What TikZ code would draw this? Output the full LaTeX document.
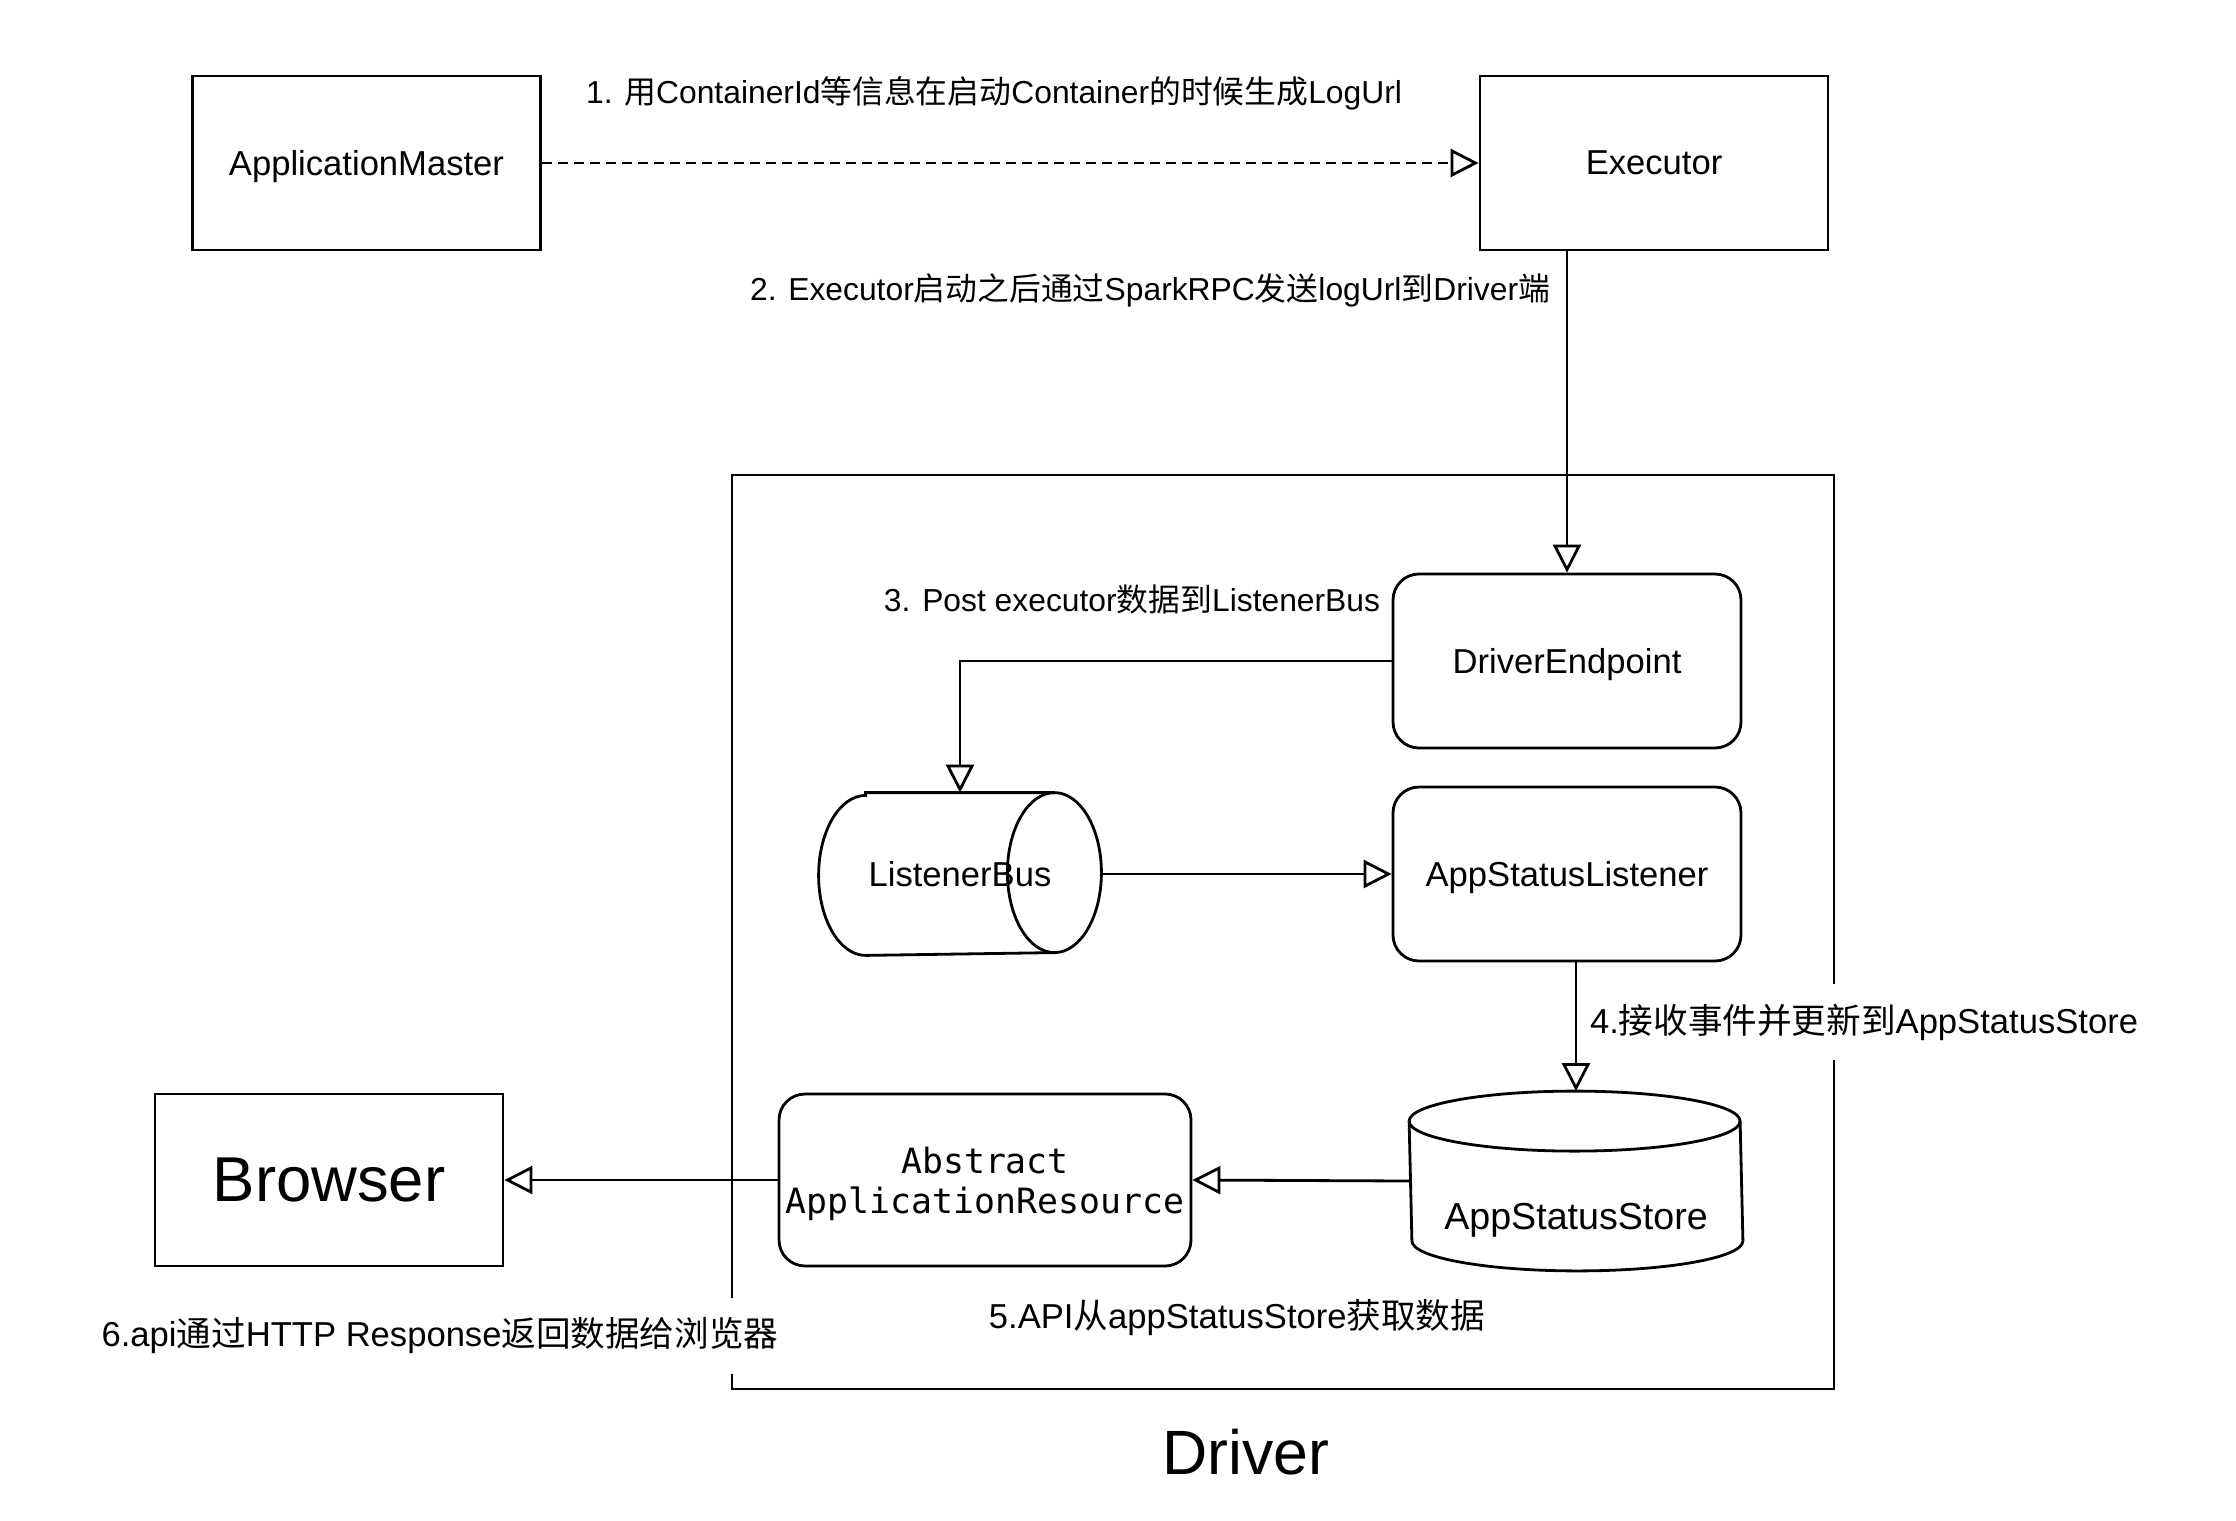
\documentclass[tikz,border=0pt]{standalone}
\usepackage{fontspec}
\setmainfont{Liberation Sans}
\newfontfamily\cjk{Noto Sans CJK SC}
\newfontfamily\codefont{DejaVu Sans Mono}
\newcommand\zh[1]{{\cjk #1}}
\usetikzlibrary{positioning,arrows.meta}

\begin{document}
\begin{tikzpicture}[x=0.5pt,y=-0.5pt,
  every node/.style={align=center},
  box/.style={draw, line width=1.4pt, minimum width=174pt, minimum height=87pt, inner sep=2pt, text depth=0pt, font=\fontsize{17.3}{20}\selectfont},
  rbox/.style={box, rounded corners=13pt},
  flow/.style={line width=1.4pt, -{Triangle[open, length=14pt, width=14pt]}},
  note/.style={font=\fontsize{15.9}{19}\selectfont, inner sep=2pt},
  bignote/.style={note, font=\fontsize{17.3}{20}\selectfont}]
  \useasboundingbox (0,0) rectangle (2236,1520);

  % driver frame
  \node[draw, line width=1.4pt, minimum width=551pt, minimum height=457pt] (drv) at (1283,932) {};
  \node[font=\fontsize{31.3}{36}\selectfont] (drvname) at (1246,1452) {Driver};

  \node[box] (am) at (366.5,163) {ApplicationMaster};
  \node[box] (exe) at (1654,163) {Executor};
  \node[rbox] (de) at (1567,661) {DriverEndpoint};
  \node[box, draw=none, minimum width=140pt, minimum height=80pt] (lb) at (960,874) {ListenerBus};
  \node[rbox] (asl) at (1567,874) {AppStatusListener};
  \node[box, draw=none, minimum width=165.5pt, minimum height=88.5pt, text height=48pt, font=\fontsize{18.8}{22}\selectfont] (ass) at (1576,1181) {AppStatusStore};
  \node[rbox, minimum width=206pt, minimum height=86pt, font=\codefont\fontsize{17.4}{20}\selectfont] (aar) at (985,1180) {Abstract\\ApplicationResource};
  \node[box, minimum height=86pt, font=\fontsize{31.7}{36}\selectfont] (br) at (329,1180) {Browser};

  % cylinders
  \draw[line width=1.4pt] ([xshift=23.5pt]lb.north west) -- ([xshift=-23.5pt]lb.north east)
    arc[start angle=90, end angle=-90, x radius=23.5pt, y radius=40pt]
    -- ([xshift=23.5pt]lb.south west)
    arc[start angle=270, end angle=90, x radius=23.5pt, y radius=40pt] -- cycle;
  \draw[line width=1.4pt] ([xshift=-23.5pt]lb.north east)
    arc[start angle=90, end angle=270, x radius=23.5pt, y radius=40pt];
  \draw[line width=1.4pt] ([yshift=-15pt]ass.north west)
    arc[start angle=180, end angle=0, x radius=82.75pt, y radius=15pt]
    -- ([yshift=15pt]ass.south east)
    arc[start angle=0, end angle=-180, x radius=82.75pt, y radius=15pt] -- cycle;
  \draw[line width=1.4pt] ([yshift=-15pt]ass.north west)
    arc[start angle=180, end angle=360, x radius=82.75pt, y radius=15pt];

  \draw[flow, dash pattern=on 5pt off 3pt] (am.east) -- (exe.west);
  \draw[flow] (exe.south -| de.north) -- (de.north);
  \draw[flow] (de.west) -| (lb.north);
  \draw[flow] (lb.east) -- (asl.west);
  \draw[flow] (asl.south -| ass.north) -- (ass.north);
  \draw[flow] (ass.west) -- (aar.east);
  \draw[flow] (aar.west) -- (br.east);

  \node[note] (l1) at (994,93) {1. \zh{用}ContainerId\zh{等信息在启动}Container\zh{的时候生成}LogUrl};
  \node[note] (l2) at (1150,290) {2. Executor\zh{启动之后通过}SparkRPC\zh{发送}logUrl\zh{到}Driver\zh{端}};
  \node[note] (l3) at (1132,599) {3. Post executor\zh{数据到}ListenerBus};
  \node[bignote, fill=white, minimum height=38pt] (l4) at (1864,1022) {4.\zh{接收事件并更新到}AppStatusStore};
  \node[bignote] (l5) at (1237,1318) {5.API\zh{从}appStatusStore\zh{获取数据}};
  \node[bignote, fill=white, minimum height=38pt] (l6) at (440,1336) {6.api\zh{通过}HTTP Response\zh{返回数据给浏览器}};
\end{tikzpicture}
\end{document}
